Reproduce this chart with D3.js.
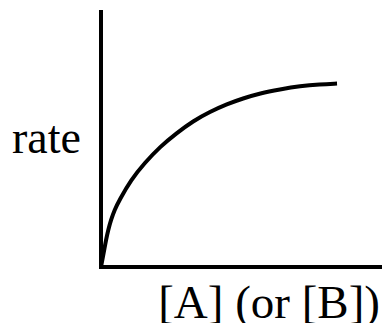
<!DOCTYPE html>
<html>
<head>
<meta charset="utf-8">
<script src="https://cdn.jsdelivr.net/npm/d3@7"></script>
<style>
  html, body { margin: 0; padding: 0; background: #fff; }
  svg { display: block; }
</style>
</head>
<body>
<svg id="chart" width="382" height="323"></svg>
<script>
// =========================
// DADES (llegides del gràfic)
// =========================
const concentration = [0, 0.046, 0.114, 0.179, 0.257, 0.357, 0.482, 0.661, 1.07, 1.56, 2.11, 2.70, 3.29, 3.89, 4.50, 5.07, 5.68, 6.39, 7.11, 7.82, 8.43];
const rate          = [0, 0.27, 0.66, 1.05, 1.44, 1.83, 2.22, 2.61, 3.39, 4.05, 4.68, 5.21, 5.68, 6.04, 6.34, 6.56, 6.76, 6.91, 7.04, 7.11, 7.14];
const xLabel = "[A] (or [B])";
const yLabel = "rate";

// =========================
// ESCALES
// =========================
const svg = d3.select("#chart");
const width = 382;
const height = 323;

const x = d3.scaleLinear().domain([0, 10]).range([101, 381]);
const y = d3.scaleLinear().domain([0, 10]).range([267, 10]);

const points = concentration.map((c, i) => ({ c, r: rate[i] }));

// =========================
// EIXOS
// =========================
svg.append("line")
  .attr("x1", x(0)).attr("x2", x(0))
  .attr("y1", y(0) + 2).attr("y2", y(10))
  .attr("stroke", "#000")
  .attr("stroke-width", 4);

svg.append("line")
  .attr("x1", x(0) - 2).attr("x2", width)
  .attr("y1", y(0)).attr("y2", y(0))
  .attr("stroke", "#000")
  .attr("stroke-width", 4);

// =========================
// CORBA
// =========================
const line = d3.line()
  .x(d => x(d.c))
  .y(d => y(d.r))
  .curve(d3.curveBasis);

svg.append("path")
  .datum(points)
  .attr("d", line)
  .attr("fill", "none")
  .attr("stroke", "#000")
  .attr("stroke-width", 4);

// =========================
// ETIQUETES
// =========================
svg.append("text")
  .attr("x", 12)
  .attr("y", 153)
  .text(yLabel)
  .style("font-family", "'Liberation Serif', 'Times New Roman', serif")
  .style("font-size", "46px")
  .style("fill", "#000");

svg.append("text")
  .attr("x", 380)
  .attr("y", 318)
  .attr("text-anchor", "end")
  .text(xLabel)
  .style("font-family", "'Liberation Serif', 'Times New Roman', serif")
  .style("font-size", "47px")
  .style("fill", "#000");
</script>
</body>
</html>
